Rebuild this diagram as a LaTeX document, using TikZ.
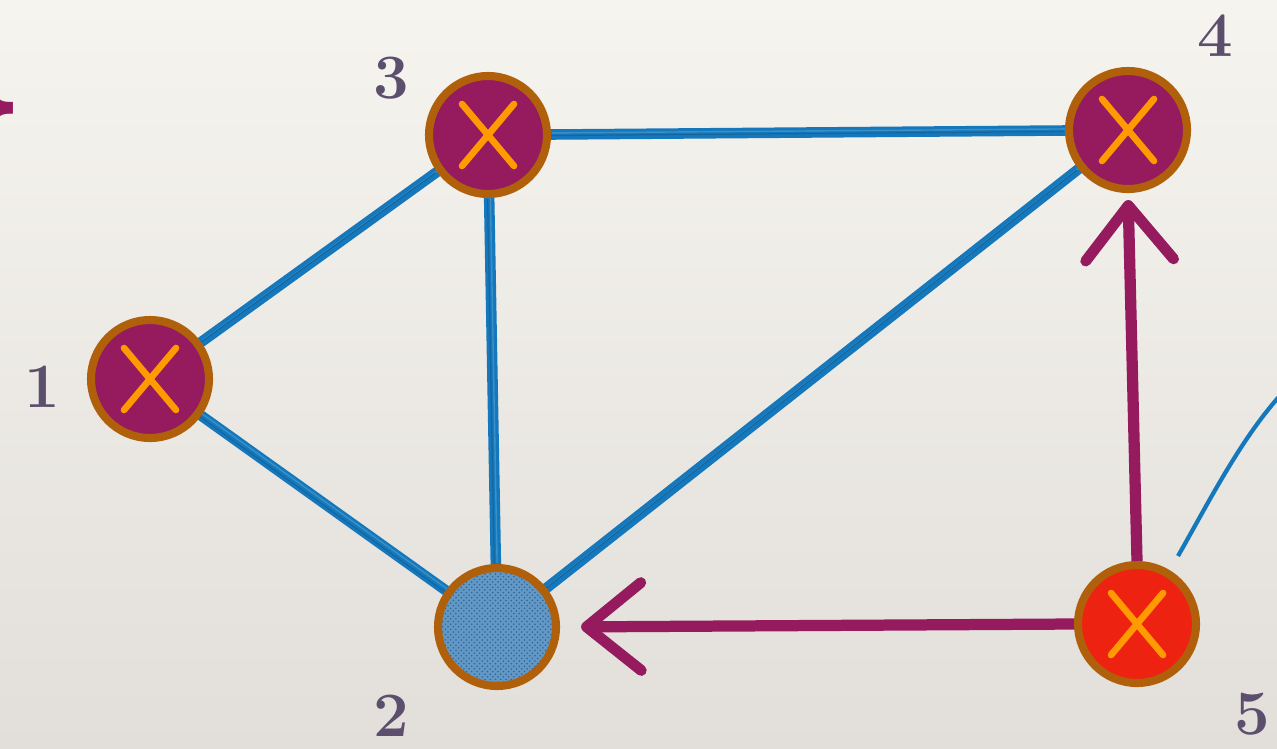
\documentclass[tikz,border=0pt]{standalone}
\usepackage{fontspec}
\newfontfamily\bracefont{DejaVu Sans}
\usetikzlibrary{arrows.meta,patterns,calc}
\definecolor{bgtop}{RGB}{246,244,239}
\definecolor{bgbot}{RGB}{226,223,218}
\definecolor{edgeblue}{RGB}{22,120,188}
\definecolor{edgeblueb}{RGB}{55,145,200}
\definecolor{arrowpurple}{RGB}{149,26,94}
\definecolor{nodepurple}{RGB}{149,26,94}
\definecolor{nodeborder}{RGB}{176,96,10}
\definecolor{xorange}{RGB}{255,154,0}
\definecolor{nodered}{RGB}{238,34,17}
\definecolor{labelgray}{RGB}{92,79,110}
\definecolor{hatchlight}{RGB}{98,152,198}
\definecolor{hatchdark}{RGB}{50,100,150}
\pgfdeclarelayer{bglayer}
\pgfdeclarelayer{edgelayer}
\pgfsetlayers{bglayer,edgelayer,main}
\tikzset{
  xstroke/.style={draw=xorange, line width=3.8pt, line cap=round},
  basenode/.style={circle, draw=nodeborder, line width=4.6pt, minimum size=2.36cm, inner sep=0pt},
  xnode/.style={basenode, fill=#1,
    path picture={
      \draw[xstroke] ([shift={(-26,-31)}]path picture bounding box.center) -- ([shift={(26,31)}]path picture bounding box.center);
      \draw[xstroke] ([shift={(26,-31)}]path picture bounding box.center) -- ([shift={(-26,31)}]path picture bounding box.center);
    }},
  hatchnode/.style={basenode, preaction={fill=hatchlight}, pattern=crosshatch dots, pattern color=hatchdark},
  numlabel/.style={text=labelgray, font=\fontsize{36}{40}\selectfont\bfseries, inner sep=0pt},
  bluelink/.style={draw=edgeblue, line width=6pt, line cap=round,
    postaction={draw=edgeblueb, line width=0.8pt, transform canvas={shift={(0.7pt,0.9pt)}}},
    postaction={draw=edgeblue!85!black, line width=0.7pt, transform canvas={shift={(-0.9pt,-0.6pt)}}}},
  purplearrow/.style={draw=arrowpurple, line width=6.4pt, -{Straight Barb[length=31pt, width=50pt, line width=6.2pt, round]}},
}
\begin{document}
\begin{tikzpicture}[x=0.02cm, y=-0.02cm]
  \useasboundingbox (0,0) rectangle (1277,748);
  \begin{pgfonlayer}{bglayer}
    \shade[top color=bgtop, bottom color=bgbot] (0,0) rectangle (1277,748);
  \end{pgfonlayer}

  % brace at left edge
  \node[anchor=east, text=arrowpurple, inner sep=0pt, font=\fontsize{62}{62}\bracefont\bfseries] (brace) at (27,108) {\}};

  % nodes
  \node[xnode=nodepurple] (n1) at (150,379) {};
  \node[xnode=nodepurple] (n3) at (488,135) {};
  \node[xnode=nodepurple] (n4) at (1128,130) {};
  \node[hatchnode] (n2) at (497,627) {};
  \node[xnode=nodered] (n5) at (1137,624) {};

  % labels
  \node[numlabel] (l1) at (42,387) {1};
  \node[numlabel] (l3) at (391,78) {3};
  \node[numlabel] (l4) at (1215,36) {4};
  \node[numlabel] (l2) at (391,716) {2};
  \node[numlabel] (l5) at (1252,714) {5};

  \begin{pgfonlayer}{edgelayer}
    % blue edges
    \draw[bluelink] (n1) -- (n3);
    \draw[bluelink] (n1) -- (n2);
    \draw[bluelink] (n3) -- (n2);
    \draw[bluelink] (n3) -- (n4);
    \draw[bluelink] (n2) -- (n4);
    % blue curve at right
    \coordinate (cstart) at (1178,556);
    \coordinate (cend) at (1290,385);
    \draw[draw=edgeblue, line width=2.4pt] (cstart) .. controls (1210,500) and (1245,430) .. (cend);
  \end{pgfonlayer}

  % purple arrows
  \draw[purplearrow, shorten >=4pt] (n5.north) -- (n4.south);
  \draw[purplearrow, shorten >=12pt] (n5.west) -- (n2.east);
\end{tikzpicture}
\end{document}
